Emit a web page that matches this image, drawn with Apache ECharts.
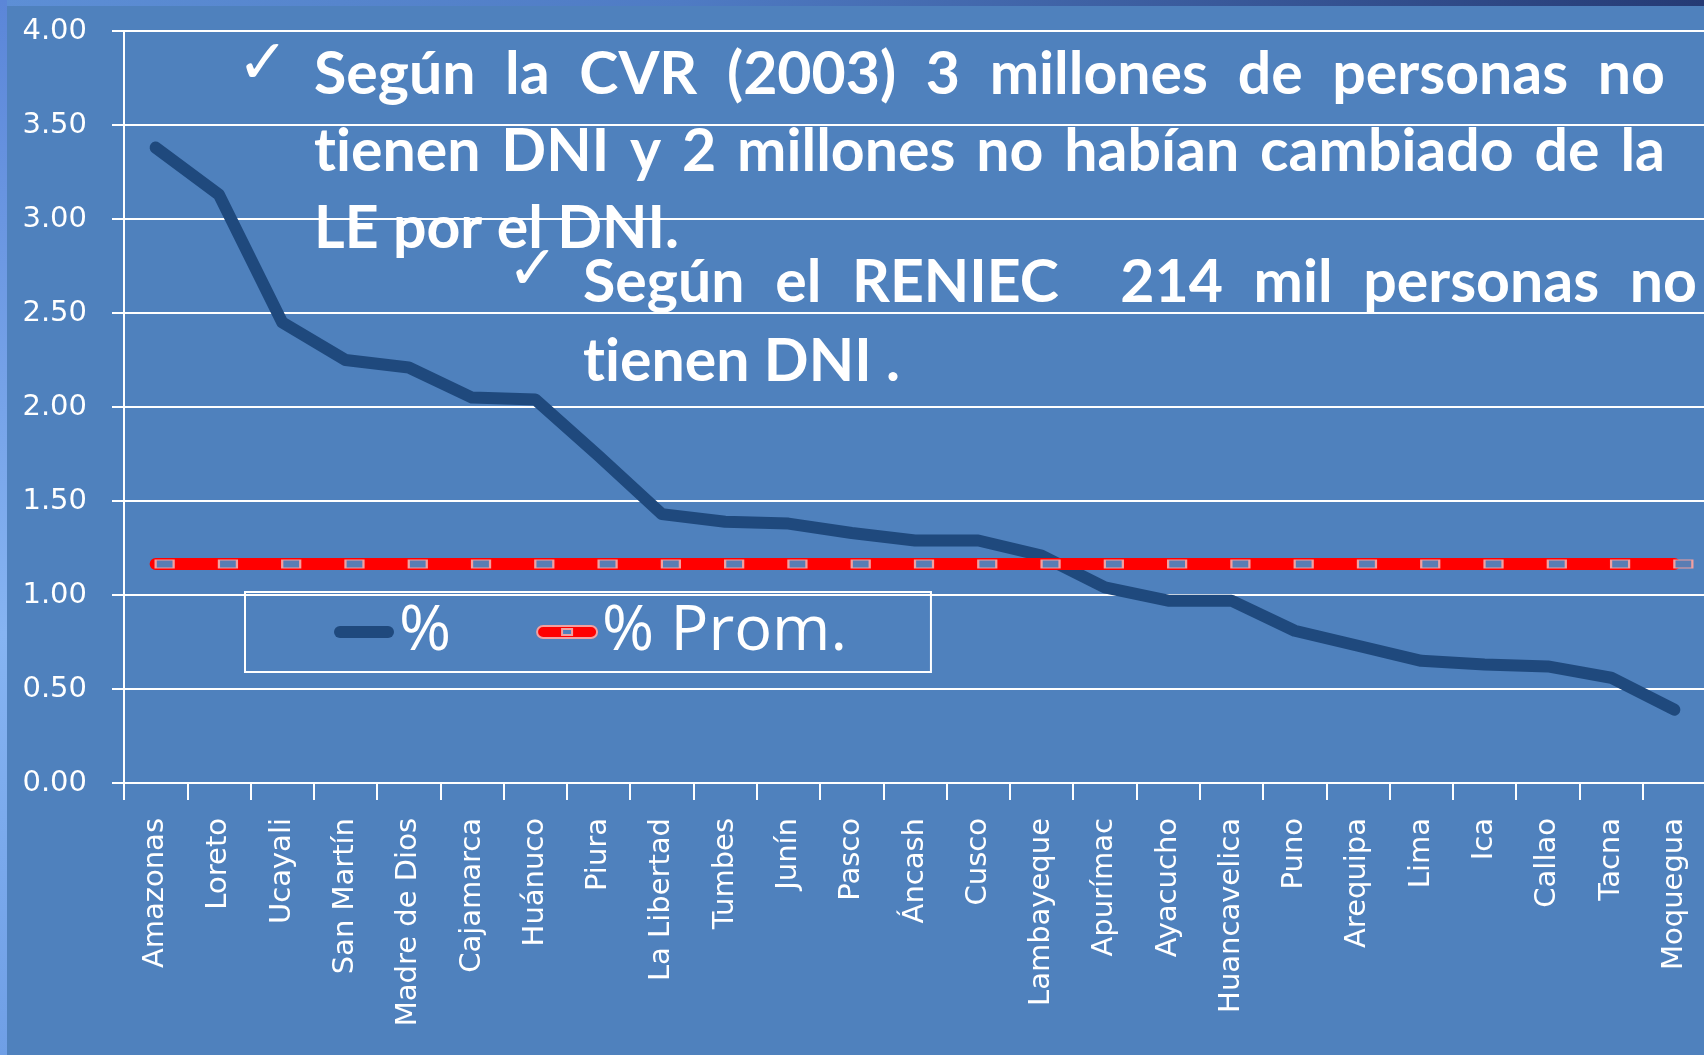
<!DOCTYPE html>
<html>
<head>
<meta charset="utf-8">
<script src="https://cdn.jsdelivr.net/npm/echarts@6/dist/echarts.min.js"></script>
<style>
  html, body { margin: 0; padding: 0; background: #4F81BD; }
  #grafico { width: 1704px; height: 1055px; }
</style>
</head>
<body>
<div id="grafico"></div>
<script>
var categorias = ['Amazonas','Loreto','Ucayali','San Martín','Madre de Dios','Cajamarca','Huánuco','Piura','La Libertad','Tumbes','Junín','Pasco','Áncash','Cusco','Lambayeque','Apurímac','Ayacucho','Huancavelica','Puno','Arequipa','Lima','Ica','Callao','Tacna','Moquegua'];
var porcentaje = [3.38,3.13,2.45,2.25,2.21,2.05,2.04,1.74,1.43,1.39,1.38,1.33,1.29,1.29,1.21,1.04,0.97,0.97,0.81,0.73,0.65,0.63,0.62,0.56,0.39];
var promedio = [1.165,1.165,1.165,1.165,1.165,1.165,1.165,1.165,1.165,1.165,1.165,1.165,1.165,1.165,1.165,1.165,1.165,1.165,1.165,1.165,1.165,1.165,1.165,1.165,1.165];
var nombres = ['%', '% Prom.'];

// texto del recuadro (justificado como en la diapositiva)
var parrafo1 = ['Según la CVR (2003) 3 millones de personas no', 'tienen DNI y 2 millones no habían cambiado de la', 'LE por el DNI.'];
var parrafo2 = ['Según el RENIEC  214 mil personas no', 'tienen DNI .'];

var fs = 59;
var fuente = 'bold ' + fs + 'px Lato';
var ctx = document.createElement('canvas').getContext('2d');
ctx.font = fuente;

function sinLigadura(t){ return t.replace(/ti/g, 't\u200Ci').replace(/fi/g, 'f\u200Ci'); }
function palabra(txt, x, y){
	return {type:'text', x:x, y:y, z:100,
		style:{text:sinLigadura(txt), font:fuente, fill:'#fff', textVerticalAlign:'middle', verticalAlign:'middle'}};
}
function justificar(linea, x0, x1, y){
	var ws = linea.split(' ');
	var anchos = ws.map(function(w){ return ctx.measureText(sinLigadura(w)).width; });
	var total = anchos.reduce(function(a,b){ return a+b; }, 0);
	var gap = (x1 - x0 - total) / (ws.length - 1);
	var out = [], x = x0;
	for(var i=0;i<ws.length;i++){
		if(ws[i] !== '') out.push(palabra(ws[i], x, y));
		x += anchos[i] + gap;
	}
	return out;
}

var textos = [];
textos = textos.concat(justificar(parrafo1[0], 314, 1665, 75));
textos = textos.concat(justificar(parrafo1[1], 314, 1665, 152));
textos.push(palabra(parrafo1[2], 314, 229));
textos = textos.concat(justificar(parrafo2[0], 583, 1697, 283));
textos.push(palabra(parrafo2[1], 583, 362));
textos.push({type:'text', x:263, y:67, z:100, style:{text:'✓', font:'62px "DejaVu Sans"', fill:'#fff', textAlign:'center', align:'center', textVerticalAlign:'middle', verticalAlign:'middle'}});
textos.push({type:'text', x:533, y:273, z:100, style:{text:'✓', font:'62px "DejaVu Sans"', fill:'#fff', textAlign:'center', align:'center', textVerticalAlign:'middle', verticalAlign:'middle'}});

// bordes de la diapositiva
textos.push({type:'rect', x:0, y:0, z:-1, shape:{width:1704, height:6},
	style:{fill:new echarts.graphic.LinearGradient(0,0,1,0,[{offset:0,color:'#5d8fd6'},{offset:0.4,color:'#4f7bc4'},{offset:1,color:'#253a74'}])}});
textos.push({type:'rect', x:0, y:0, z:-1, shape:{width:7, height:1055},
	style:{fill:new echarts.graphic.LinearGradient(0,0,0,1,[{offset:0,color:'#5b86d8'},{offset:0.6,color:'#86b4f2'},{offset:1,color:'#6f9fe6'}])}});

var iconoLinea = 'path://M6,0 L54,0 A6,6 0 0 1 54,12 L6,12 A6,6 0 0 1 6,0 Z';
var iconoProm = 'path://M6,0 L54,0 A6,6 0 0 1 54,12 L6,12 A6,6 0 0 1 6,0 Z M25,3 L25,9 L35,9 L35,3 Z';

var chart = echarts.init(document.getElementById('grafico'));
var option = {
	backgroundColor: '#4F81BD',
	animation: false,
	grid: {left:124, top:31, width:1582, height:752, containLabel:false, outerBoundsMode:'none'},
	legend: {
		data: [
			{name: nombres[0], icon: iconoLinea, itemStyle: {color:'#1F497D'}},
			{name: nombres[1], icon: iconoProm, itemStyle: {color:'#FF0000'}}
		],
		left: 245, top: 592,
		orient: 'horizontal',
		padding: [6, 84, 6, 89],
		itemGap: 85,
		itemWidth: 60, itemHeight: 12,
		borderColor: '#fff', borderWidth: 2,
		textStyle: {color:'#fff', fontFamily:'Open Sans', fontSize:63, lineHeight:68}
	},
	xAxis: {
		type: 'category',
		data: categorias,
		boundaryGap: true,
		axisLine: {lineStyle:{color:'#fff', width:2}},
		axisTick: {show:true, length:17, lineStyle:{color:'#fff', width:2}},
		axisLabel: {interval:0, rotate:90, margin:35, color:'#fff', fontFamily:'DejaVu Sans', fontSize:29},
		splitLine: {show:false}
	},
	yAxis: {
		type: 'value',
		min: 0, max: 4, interval: 0.5,
		axisLine: {show:true, lineStyle:{color:'#fff', width:2}},
		axisTick: {show:true, length:12, lineStyle:{color:'#fff', width:2}},
		axisLabel: {margin:37, color:'#fff', fontFamily:'DejaVu Sans', fontSize:29,
			formatter:function(v){ return v.toFixed(2); }},
		splitLine: {show:true, lineStyle:{color:'#fff', width:2}}
	},
	series: [
		{
			name: nombres[0], type: 'line', data: porcentaje,
			symbol: 'none',
			lineStyle: {color:'#1F497D', width:12, cap:'round', join:'round'},
			itemStyle: {color:'#1F497D'}
		},
		{
			name: nombres[1], type: 'line', data: promedio,
			symbol: 'rect', symbolSize: [18, 8], symbolOffset: [9, 0], showAllSymbol: true,
			lineStyle: {color:'#FF0000', width:12, cap:'round'},
			itemStyle: {color:'#5a7db3', borderColor:'#f2a0a0', borderWidth:1.5}
		}
	],
	graphic: textos
};
chart.setOption(option);
</script>
</body>
</html>
